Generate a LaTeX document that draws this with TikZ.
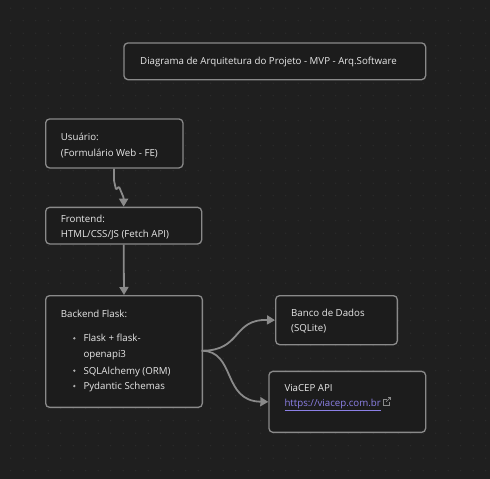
\documentclass[tikz,border=0pt]{standalone}
\usepackage{fontspec}
\setmainfont{Open Sans}
\usetikzlibrary{arrows.meta,calc}
\definecolor{bg}{HTML}{1F1F1F}
\definecolor{boxfill}{HTML}{1C1C1C}
\definecolor{dotc}{HTML}{2E2E2E}
\definecolor{edge}{HTML}{8A8A8A}
\definecolor{txt}{HTML}{E8E8E8}
\definecolor{linkc}{HTML}{8C80E6}
\tikzset{
  box/.style={draw=edge, fill=boxfill, line width=1.3pt, rounded corners=4pt, anchor=north west, inner sep=0pt},
  lbl/.style={anchor=base west, inner sep=0pt, text=txt, font=\fontsize{9.7}{11}\selectfont},
  conn/.style={draw=edge, line width=1.8pt, -{Triangle[length=8pt,width=9pt]}},
  bul/.style={circle, fill=edge!70, inner sep=0pt, minimum size=2.6pt}
}
\begin{document}
\begin{tikzpicture}[x=1pt,y=-1pt]
\fill[bg] (0,0) rectangle (490,479);
\useasboundingbox (0,0) rectangle (490,479);
\foreach \i in {0,...,38}{
  \foreach \j in {0,...,38}{
    \fill[dotc] (10.7+12.5*\i, 8.2+12.5*\j) circle (0.7pt);
  }
}
% boxes
\node[box, minimum width=301.7pt, minimum height=36.7pt] (title) at (123.3,42.3) {};
\node[box, minimum width=137.3pt, minimum height=49pt] (usr) at (45,118.3) {};
\node[box, minimum width=156pt, minimum height=36.6pt] (fe) at (45,206.7) {};
\node[box, minimum width=156.7pt, minimum height=111.7pt] (be) at (45,295) {};
\node[box, minimum width=121.7pt, minimum height=49pt] (db) at (275,295) {};
\node[box, minimum width=156.7pt, minimum height=61pt] (via) at (268.3,370.7) {};
% texts
\node[lbl] (t0) at (140,64) {Diagrama de Arquitetura do Projeto - MVP - Arq.Software};
\node[lbl] (t1) at (60.7,140) {Usuário:};
\node[lbl] (t2) at (60.7,156) {(Formulário Web - FE)};
\node[lbl] (t3) at (60.7,222.3) {Frontend:};
\node[lbl] (t4) at (60.7,237.5) {HTML/CSS/JS (Fetch API)};
\node[lbl] (t5) at (60.7,317.3) {Backend Flask:};
\node[bul] (b1) at (74.3,338.3) {};
\node[lbl] (t6) at (83.3,341.6) {Flask + flask-};
\node[lbl] (t7) at (83.3,357.3) {openapi3};
\node[bul] (b2) at (74.3,370.7) {};
\node[lbl] (t8) at (83.3,374) {SQLAlchemy (ORM)};
\node[bul] (b3) at (74.3,386) {};
\node[lbl] (t9) at (83.3,389.3) {Pydantic Schemas};
\node[lbl] (t10) at (291,316) {Banco de Dados};
\node[lbl] (t11) at (291,331.6) {(SQLite)};
\node[lbl] (t12) at (284.3,391.3) {ViaCEP API};
\node[lbl, text=linkc] (t13) at (284.3,406.3) {\underline{https://viacep.com.br}};
% external-link icon
\coordinate (ic) at ($(t13.base east)+(2.5,-1)$);
\draw[edge, line width=0.6pt] ($(ic)+(3,-6)$) -- ($(ic)+(0,-6)$) -- (ic) -- ($(ic)+(6,0)$) -- ($(ic)+(6,-3)$);
\draw[edge, line width=0.6pt] ($(ic)+(2.5,-3.5)$) -- ($(ic)+(7,-8)$);
\draw[edge, line width=0.6pt] ($(ic)+(4.5,-8)$) -- ($(ic)+(7,-8)$) -- ($(ic)+(7,-5.5)$);
% connectors
\draw[conn, rounded corners=1pt] ($(usr.south)+(-0.3,0)$) -- ++(0,12) -- ++(2,9) -- ++(3,-3) -- ++(2.5,6) -- ($(fe.north)+(0,-9)$) -- (fe.north);
\draw[conn] (fe.south) -- (be.north);
\coordinate (split) at (201.7,350.7);
\draw[conn] (split) .. controls (242,351) and (232,319) .. (db.west);
\draw[conn] (split) .. controls (236,351) and (222,401) .. (via.west);
\end{tikzpicture}
\end{document}
